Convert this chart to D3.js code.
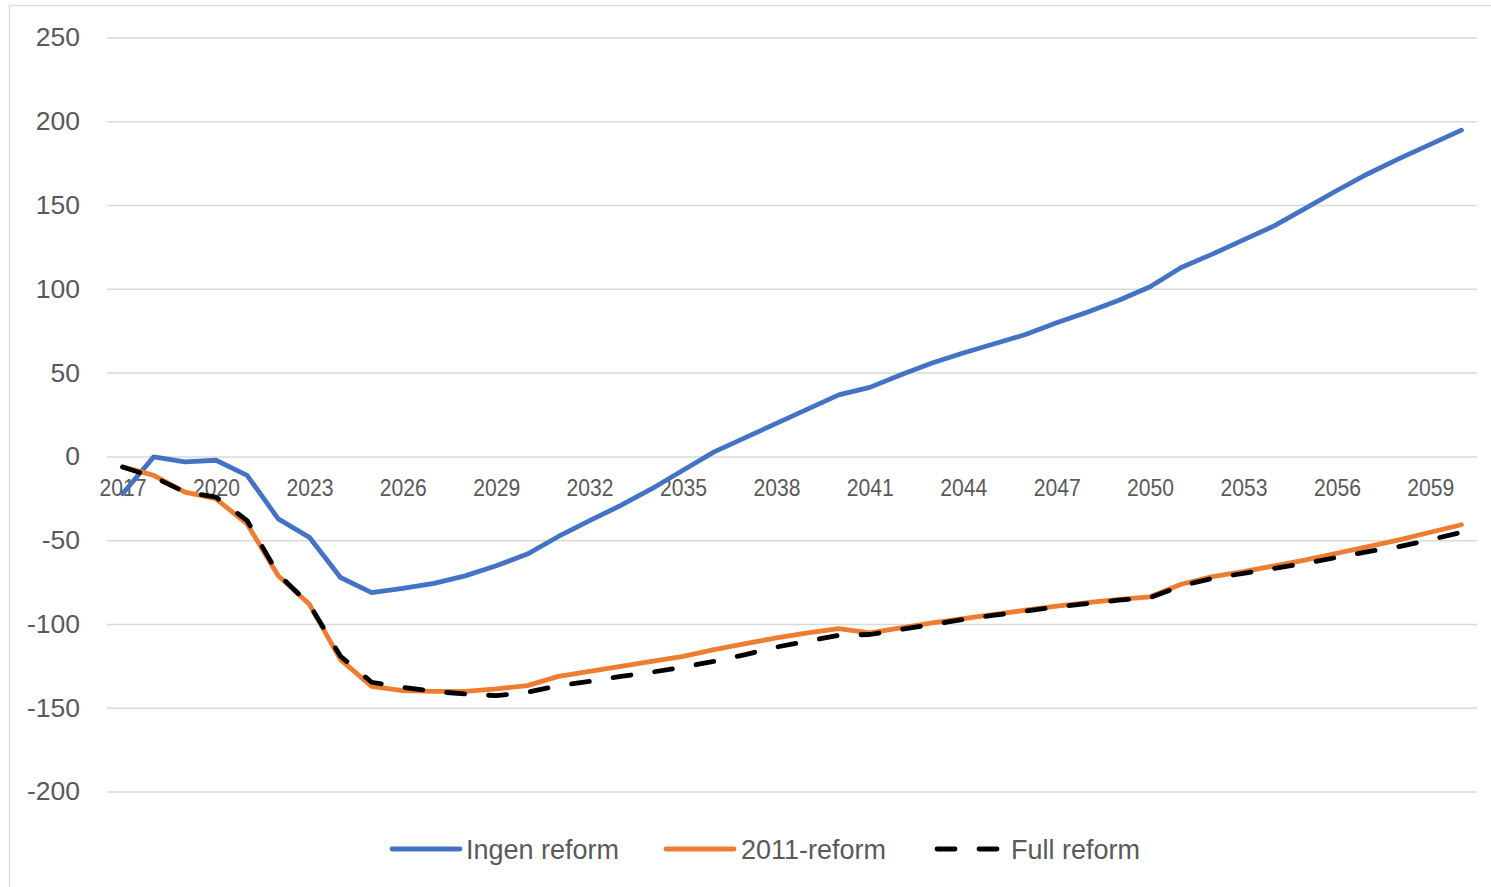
<!DOCTYPE html>
<html>
<head>
<meta charset="utf-8">
<script src="https://cdn.jsdelivr.net/npm/d3@7"></script>
<style>
  html, body { margin: 0; padding: 0; background: #fff; }
  svg { display: block; }
  text { font-family: "Liberation Sans", Arial, sans-serif; fill: #595959; }
</style>
</head>
<body>
<svg id="chart" width="1491" height="887"></svg>
<script>
const years = d3.range(2017, 2061).map(String);
const yTicks = [250, 200, 150, 100, 50, 0, -50, -100, -150, -200];
const xTickLabels = ["2017","2020","2023","2026","2029","2032","2035","2038","2041","2044","2047","2050","2053","2056","2059"];

const ingenReform = [-22, 0, -3, -2, -11, -37, -48, -72, -81, -78.5,
  -75.5, -71, -65, -58, -47.5, -38, -29, -19, -8, 3,
  11.5, 20, 28.5, 37, 41.5, 49, 56, 62, 67.5, 73,
  80, 86.5, 93.5, 101.5, 113, 121, 129.5, 138, 148.5, 159,
  169, 178, 186.5, 195];
const reform2011 = [-6, -11, -21, -25, -40, -71, -88, -121, -137, -139.5,
  -140, -140, -138.5, -136.5, -131, -128, -125, -122, -119, -115,
  -111.5, -108, -105, -102.5, -105, -102, -99, -96.5, -94, -91.5,
  -89, -87, -85, -83.5, -76, -71.5, -68.5, -65, -61.5, -57.5,
  -53.5, -49.5, -45, -40.5];
const fullReform = [-6, -12, -21, -24, -38, -70, -88, -119, -134.5, -137.5,
  -140, -141.5, -142.5, -140.5, -136.5, -134, -131, -128.5, -125.5, -122,
  -118, -113.5, -110, -106.5, -106, -103, -100, -97, -94.5, -92,
  -89.5, -87.5, -85.5, -84, -77, -72.5, -69.5, -66.5, -63.5, -60,
  -56.5, -53.5, -49.5, -45];

const seriesNames = ["Ingen reform", "2011-reform", "Full reform"];
const seriesColors = ["#4472C4", "#ED7D31", "#000000"];
const seriesValues = [ingenReform, reform2011, fullReform];

const svg = d3.select("#chart");

// chart border
svg.append("rect")
  .attr("x", 9.5).attr("y", 5.5).attr("width", 1500).attr("height", 900)
  .attr("fill", "none").attr("stroke", "#D9D9D9").attr("stroke-width", 1.3);

const plotLeft = 107, plotRight = 1477;
const x = d3.scalePoint().domain(years).range([plotLeft, plotRight]).padding(0.5);
const y = d3.scaleLinear().domain([-200, 250]).range([792, 38]);

// gridlines
svg.append("g").selectAll("line").data(yTicks).join("line")
  .attr("x1", plotLeft).attr("x2", plotRight)
  .attr("y1", d => y(d)).attr("y2", d => y(d))
  .attr("stroke", "#D9D9D9").attr("stroke-width", 1.5);

// y axis labels
const yAxis = d3.axisLeft(y).tickValues(yTicks).tickSize(0).tickPadding(0)
  .tickFormat(d => String(d));
const gy = svg.append("g").attr("transform", "translate(80,0)").call(yAxis);
gy.select(".domain").remove();
gy.selectAll("text")
  .attr("font-family", "Liberation Sans, Arial, sans-serif")
  .attr("font-size", 26.5).attr("fill", "#595959").attr("dy", "0.3em");

// x axis labels (crossing at 0)
const xAxis = d3.axisBottom(x).tickValues(xTickLabels).tickSize(0).tickPadding(0);
const gx = svg.append("g").attr("transform", `translate(0,${y(0)})`).call(xAxis);
gx.select(".domain").remove();
gx.selectAll("text")
  .attr("font-family", "Liberation Sans, Arial, sans-serif")
  .attr("font-size", 24).attr("fill", "#595959")
  .attr("dy", 0).attr("y", 39)
  .attr("textLength", 47).attr("lengthAdjust", "spacingAndGlyphs");

// lines
const line = d3.line().x((d, i) => x(years[i])).y(d => y(d));
seriesValues.forEach((vals, k) => {
  const p = svg.append("path").datum(vals)
    .attr("d", line)
    .attr("fill", "none")
    .attr("stroke", seriesColors[k])
    .attr("stroke-width", 4.8)
    .attr("stroke-linejoin", "round")
    .attr("stroke-linecap", "round");
  if (k === 2) p.attr("stroke-dasharray", "18 24");
});

// legend
const legendItems = [
  {x1: 392, x2: 460, tx: 466},
  {x1: 666, x2: 734, tx: 741},
  {x1: 937, x2: 1000, tx: 1011}
];
const lg = svg.append("g");
legendItems.forEach((it, k) => {
  const l = lg.append("line")
    .attr("x1", it.x1).attr("x2", it.x2).attr("y1", 849).attr("y2", 849)
    .attr("stroke", seriesColors[k]).attr("stroke-width", 4.8)
    .attr("stroke-linecap", "round");
  if (k === 2) l.attr("stroke-dasharray", "18 24");
  lg.append("text").attr("x", it.tx).attr("y", 858.5)
    .attr("font-size", 27).text(seriesNames[k]);
});
</script>
</body>
</html>
